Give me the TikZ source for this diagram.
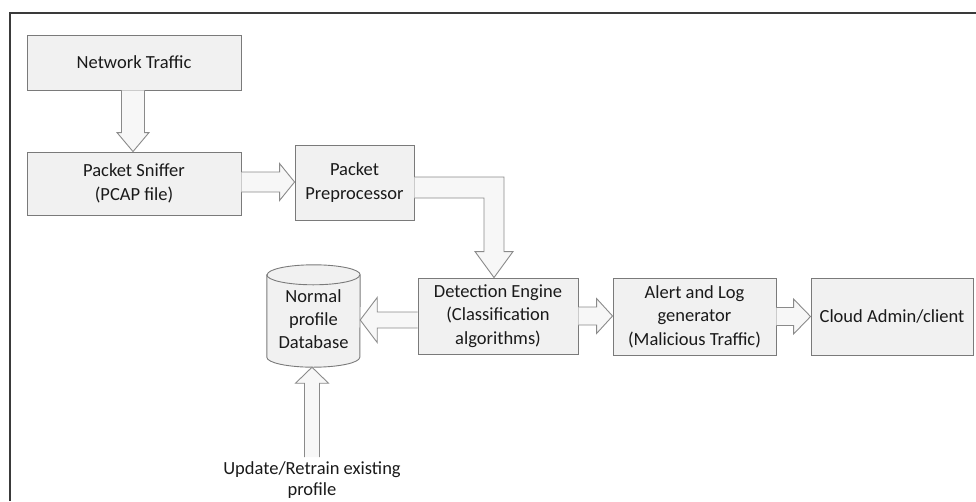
\documentclass[tikz,border=0pt]{standalone}
\usepackage{fontspec}
\setmainfont{Carlito}
\usetikzlibrary{calc}
\definecolor{boxfill}{HTML}{F1F1F1}
\definecolor{boxline}{HTML}{7A7A7A}
\definecolor{arrfill}{HTML}{F7F7F7}
\definecolor{arrline}{HTML}{8A8A8A}
\definecolor{frameline}{HTML}{3A3A3A}
\definecolor{txt}{HTML}{1A1A1A}
% right-pointing block arrow: #1 start, #2 tip, #3 shaft half, #4 head half, #5 head length
\newcommand{\BArRight}[5]{\filldraw[barrow] ($(#1)+(0,-#3)$) -- ($(#2)+(-#5,-#3)$) -- ($(#2)+(-#5,-#4)$) -- (#2) -- ($(#2)+(-#5,#4)$) -- ($(#2)+(-#5,#3)$) -- ($(#1)+(0,#3)$);}
\newcommand{\BArLeft}[5]{\filldraw[barrow] ($(#1)+(0,-#3)$) -- ($(#2)+(#5,-#3)$) -- ($(#2)+(#5,-#4)$) -- (#2) -- ($(#2)+(#5,#4)$) -- ($(#2)+(#5,#3)$) -- ($(#1)+(0,#3)$);}
\newcommand{\BArDown}[5]{\filldraw[barrow] ($(#1)+(-#3,0)$) -- ($(#2)+(-#3,-#5)$) -- ($(#2)+(-#4,-#5)$) -- (#2) -- ($(#2)+(#4,-#5)$) -- ($(#2)+(#3,-#5)$) -- ($(#1)+(#3,0)$);}
\newcommand{\BArUp}[5]{\filldraw[barrow] ($(#1)+(-#3,0)$) -- ($(#2)+(-#3,#5)$) -- ($(#2)+(-#4,#5)$) -- (#2) -- ($(#2)+(#4,#5)$) -- ($(#2)+(#3,#5)$) -- ($(#1)+(#3,0)$);}
\begin{document}
\begin{tikzpicture}[x=1pt,y=-1pt,
  stepbox/.style={draw=boxline, fill=boxfill, line width=0.9pt, inner sep=0pt, align=center, text=txt, font=\fontsize{18.5}{23.5}\selectfont},
  plain/.style={inner sep=0pt, align=center, text=txt, font=\fontsize{18.5}{21.5}\selectfont},
  barrow/.style={draw=arrline, fill=arrfill, line width=0.9pt, line join=miter}]
\useasboundingbox (0,0) rectangle (976,501);
% frame
\draw[frameline, line width=2pt] (9.5,501) -- (9.5,12.5) -- (976,12.5);

\node[stepbox, minimum width=214, minimum height=55] (net) at (134,62.5) {Network Traffic};
\node[stepbox, minimum width=214, minimum height=63] (sniff) at (134,183.5) {Packet Sniffer\\(PCAP file)};
\node[stepbox, minimum width=119, minimum height=75] (prep) at (354.5,182.5) {Packet\\Preprocessor};
\node[stepbox, minimum width=160, minimum height=76] (det) at (498,316) {Detection Engine\\(Classification\\algorithms)};
\node[stepbox, minimum width=163, minimum height=77] (alert) at (694.5,316.5) {Alert and Log\\generator\\(Malicious Traffic)};
\node[stepbox, minimum width=162, minimum height=77] (cloud) at (892,316.5) {Cloud Admin/client};

% database cylinder
\node[plain, minimum width=93, minimum height=102] (db) at (313.5,316) {};
\filldraw[draw=boxline, fill=boxfill, line width=0.9pt]
  ($(db.north west)+(0,10)$) -- ($(db.south west)+(0,-10)$)
  arc[start angle=180, end angle=360, x radius=46.5, y radius=-10]
  -- ($(db.north east)+(0,10)$)
  arc[start angle=0, end angle=180, x radius=46.5, y radius=-10] -- cycle;
\draw[boxline, line width=0.9pt] ($(db.north west)+(0,10)$)
  arc[start angle=180, end angle=360, x radius=46.5, y radius=-10];
\node[plain, font=\fontsize{18.5}{23}\selectfont] at ($(db.center)+(0,3)$) {Normal\\profile\\Database};

\node[plain, anchor=north] (upd) at (312,461) {Update/Retrain existing\\profile};

% connectors
\BArDown{$(net.south)+(-1,0)$}{$(sniff.north)+(-1,0)$}{11.5}{16}{19}
\BArRight{$(sniff.east)+(0,-1.5)$}{$(sniff.east -| prep.west)+(0,-1.5)$}{10}{18.5}{15}
\coordinate (tipd) at ($(det.north)+(-4,0)$);
\coordinate (pe) at ($(prep.east)+(0,5)$);
\coordinate (corner) at (tipd |- pe);
\filldraw[barrow] ($(pe)+(0,-10.5)$) -- ($(corner)+(10,-10.5)$) -- ($(tipd)+(10,-26)$) -- ($(tipd)+(19,-26)$) -- (tipd) -- ($(tipd)+(-19,-26)$) -- ($(tipd)+(-10,-26)$) -- ($(corner)+(-10,10.5)$) -- ($(pe)+(0,10.5)$);
\BArLeft{$(det.west)+(0,4)$}{$(det.west -| db.east)+(0,4)$}{8}{22.5}{17}
\BArRight{$(det.east)$}{$(det.east -| alert.west)$}{9}{17.5}{16}
\BArRight{$(alert.east)$}{$(alert.east -| cloud.west)$}{9}{17.5}{17}
\BArUp{$(upd.north)+(0,-4)$}{$(upd.north |- db.south)$}{7.5}{16.5}{16}
\end{tikzpicture}
\end{document}
